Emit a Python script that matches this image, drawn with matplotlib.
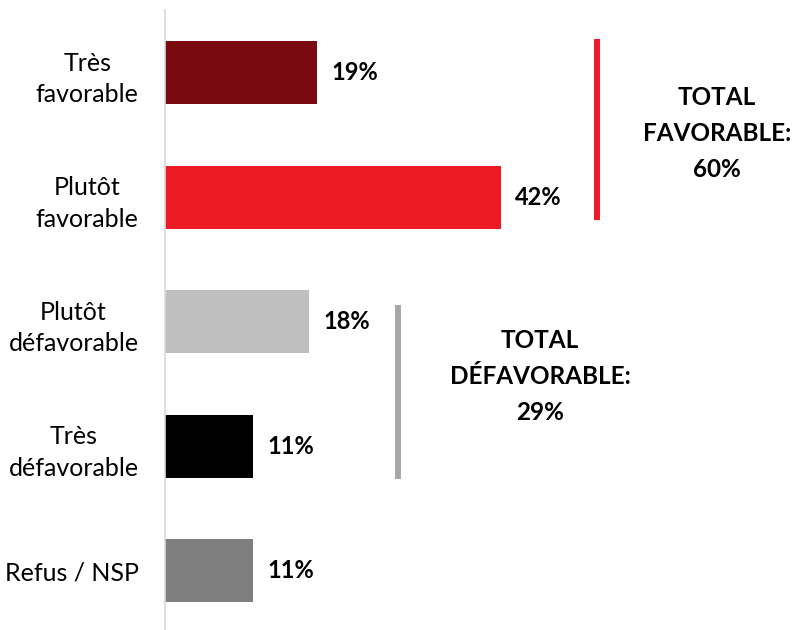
import matplotlib
matplotlib.use("Agg")
import matplotlib.pyplot as plt

plt.rcParams["font.family"] = ["Lato", "DejaVu Sans"]

categories = ["Très\nfavorable", "Plutôt\nfavorable", "Plutôt\ndéfavorable",
              "Très\ndéfavorable", "Refus / NSP"]
values = [19, 42, 18, 11, 11]
colors = ["#7A0A10", "#ED1C24", "#BFBFBF", "#000000", "#7F7F7F"]

# groups: label, total, first/last bar index, bracket colour
total_labels = ["TOTAL\nFAVORABLE:", "TOTAL\nDÉFAVORABLE:"]
total_values = [60, 29]
total_ranges = [(0, 1), (2, 3)]
total_colors = ["#ED1C24", "#A6A6A6"]

W, H = 797, 630
fig = plt.figure(figsize=(W / 100, H / 100), dpi=100)
ax = fig.add_axes([165 / W, 0, 1 - 165 / W, 620 / H])

y = list(range(len(categories)))
ax.barh(y, values, height=0.505, color=colors)
ax.set_xlim(0, (W - 165) / 8.0)
ax.set_ylim(4.474, -0.502)

for yi, v in zip(y, values):
    ax.text(v + 1.8, yi, f"{v}%", va="center", ha="left",
            fontsize=17, fontweight="bold", color="#000000")

ax.set_yticks(y)
ax.set_yticklabels(categories, fontsize=18, linespacing=1.45)
for lab in ax.get_yticklabels():
    lab.set_multialignment("center")
ax.tick_params(axis="y", length=0, pad=19)
ax.tick_params(axis="x", bottom=False, labelbottom=False)

for s in ["top", "right", "bottom"]:
    ax.spines[s].set_visible(False)
ax.spines["left"].set_color("#D9D9D9")
ax.spines["left"].set_linewidth(1.2)

# brackets + total labels (x positions, bracket overhangs, text centres)
bx = [54.0, 29.1]
ext = [(0.27, 0.185), (0.135, 0.26)]
tx = [69.0, 46.9]
ty = [0.49, 2.44]
for (i0, i1), lab, tv, col, xb, (e0, e1), xt, yt in zip(
        total_ranges, total_labels, total_values, total_colors, bx, ext, tx, ty):
    ax.plot([xb, xb], [i0 - e0, i1 + e1], color=col, lw=4.3,
            solid_capstyle="butt")
    ax.text(xt, yt, f"{lab}\n{tv}%", ha="center", va="center",
            fontsize=17.5, fontweight="bold", linespacing=1.7, color="#000000")

fig.savefig("out.png", dpi=100, facecolor="white")
